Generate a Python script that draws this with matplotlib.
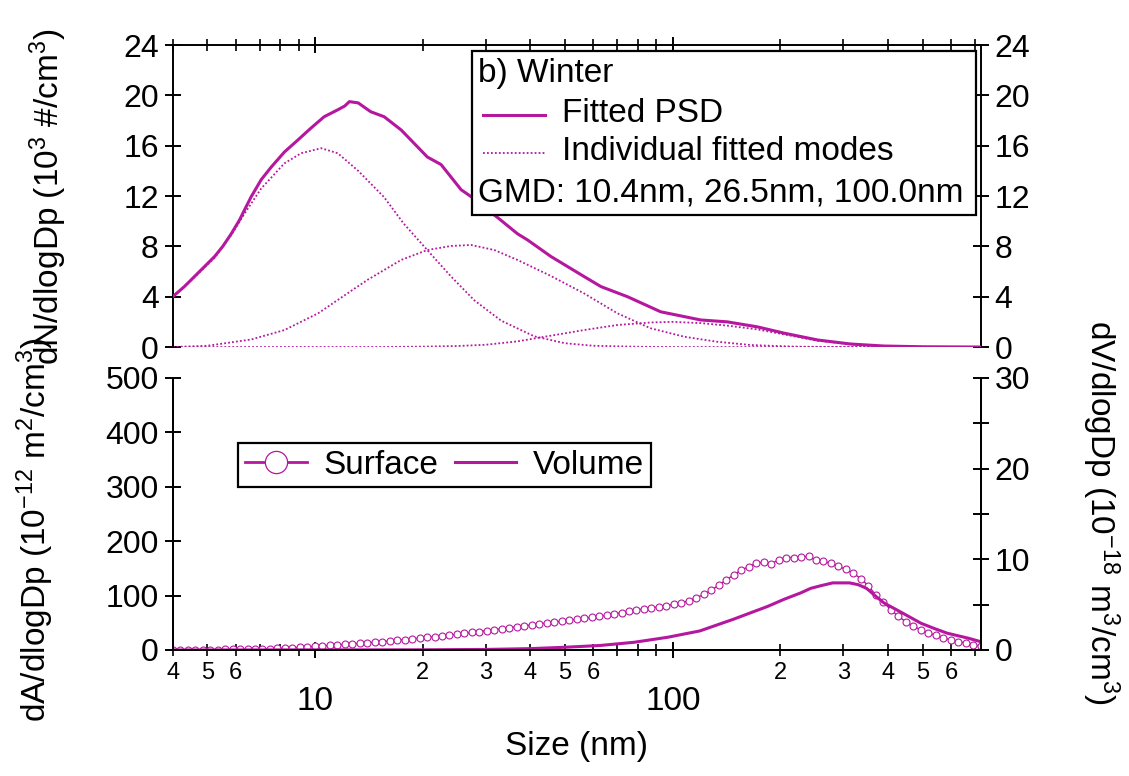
import numpy as np
import matplotlib
matplotlib.use("Agg")
import matplotlib.pyplot as plt
from matplotlib.ticker import FixedLocator, FixedFormatter
from matplotlib.lines import Line2D
from matplotlib.patches import Rectangle

plt.rcParams['font.family'] = ['Liberation Sans', 'DejaVu Sans']
plt.rcParams['mathtext.fontset'] = 'custom'
plt.rcParams['mathtext.rm'] = 'Liberation Sans'
plt.rcParams['mathtext.it'] = 'Liberation Sans:italic'

MAG = '#b5179e'

# number size distribution (10^3 #/cm3)
psd_d = [4.0, 4.31, 4.6, 4.91, 5.24, 5.52, 5.83, 6.15, 6.35, 6.63, 7.07, 7.54,
         8.21, 8.95, 9.74, 10.6, 11.57, 12.1, 12.47, 13.2, 14.3, 15.6, 17.4,
         20.6, 22.5, 25.6, 27.3, 32.5, 36.8, 39.3, 45.6, 56.5, 63, 74.7, 92.5,
         119.7, 142, 172.5, 205, 254, 314, 389, 500, 725]
psd_n = [4.0, 4.8, 5.6, 6.4, 7.2, 8.0, 9.0, 10.1, 10.9, 11.95, 13.3, 14.3,
         15.5, 16.45, 17.4, 18.3, 18.85, 19.15, 19.5, 19.4, 18.7, 18.3, 17.25,
         15.1, 14.5, 12.5, 11.95, 10.25, 9.0, 8.5, 7.2, 5.6, 4.8, 4.0, 2.8,
         2.15, 2.0, 1.6, 1.1, 0.56, 0.24, 0.08, 0.02, 0.0]

# fitted modes
m1_d = [4.0, 4.6, 5.24, 5.83, 6.35, 7.07, 8.21, 9.14, 10.4, 11.57, 13.2, 15.6,
        17.7, 20.6, 24, 27.9, 33.1, 41, 50, 60, 80, 100, 725]
m1_n = [4.0, 5.55, 7.1, 8.9, 10.6, 12.6, 14.6, 15.4, 15.8, 15.4, 14.0, 11.9,
        9.8, 7.7, 5.6, 3.7, 2.1, 0.85, 0.3, 0.1, 0.02, 0.0, 0.0]
m2_d = [4.0, 5, 6.63, 8.21, 10.2, 11.57, 14.0, 17.4, 20.6, 24, 27.3, 31.7,
        36.8, 45.6, 56.5, 70, 86.7, 107.6, 133, 165, 220, 300, 725]
m2_n = [0.0, 0.1, 0.6, 1.35, 2.68, 3.74, 5.33, 6.92, 7.71, 8.03, 8.11, 7.71,
        6.92, 5.65, 4.26, 2.68, 1.49, 0.82, 0.42, 0.16, 0.03, 0.0, 0.0]
m3_d = [4.0, 15, 20, 25, 30, 36.8, 45.6, 56.5, 70, 86.7, 100, 120, 142,
        172.5, 205, 254, 314, 389, 500, 725]
m3_n = [0.0, 0.0, 0.03, 0.08, 0.18, 0.45, 0.9, 1.35, 1.75, 1.95, 2.0, 1.9, 1.7,
        1.4, 1.0, 0.5, 0.22, 0.07, 0.02, 0.0]

# surface distribution (10^-12 m2/cm3), one value per size bin
surf_d = np.logspace(np.log10(4), np.log10(725), 109)
surf = [0.2, 0.3, 0.35, 0.45, 0.55, 0.65, 0.8, 0.95, 1.1, 1.3,
        1.6, 1.9, 2.2, 2.6, 3.0, 3.5, 4.1, 4.8, 5.6, 6.8,
        7.6, 8.5, 9.4, 10.3, 11.2, 12.2, 13.2, 14.2, 15.2, 16.3,
        17.6, 19.0, 20.4, 21.8, 23.1, 24.5, 25.9, 27.3, 28.8, 30.5,
        32.2, 33.9, 35.7, 37.4, 39.1, 40.9, 42.6, 44.4, 46.1, 47.8,
        49.6, 51.3, 53.0, 54.8, 56.5, 58.2, 60.0, 61.6, 63.8, 66.2,
        68.6, 71.0, 73.5, 75.6, 77.5, 79.4, 81.5, 83.8, 86.8, 90.5,
        96.0, 102, 110, 119, 129, 138, 147, 153, 159, 162,
        158, 166, 170, 170, 171, 172, 165, 163, 159, 154,
        148, 141, 131, 118, 101, 88, 74, 62, 52, 44,
        37, 31, 27, 22.5, 18.8, 15.5, 12.5, 9.8, 7.4]

# volume distribution (10^-18 m3/cm3)
vol_d = [4, 20, 30, 40, 50, 62.8, 78, 96.7, 119, 148, 165, 184, 205, 228, 243,
         260, 280, 312, 330, 348, 370, 389, 433, 494, 540, 585, 670, 725]
vol = [0, 0.02, 0.06, 0.15, 0.3, 0.5, 0.85, 1.4, 2.1, 3.4, 4.1, 4.8, 5.6, 6.3, 6.8,
       7.1, 7.4, 7.4, 7.2, 6.8, 5.9, 5.2, 4.2, 2.95, 2.35, 1.85, 1.3, 0.92]

x_major = [10, 100]
x_minor = [4, 5, 6, 7, 8, 9, 20, 30, 40, 50, 60, 70, 80, 90,
           200, 300, 400, 500, 600, 700]
x_minor_labels = ['4', '5', '6', '', '', '', '2', '3', '4', '5', '6', '', '', '',
                  '2', '3', '4', '5', '6', '']
xlim = (4, 725)

fig = plt.figure(figsize=(11.29, 7.76), dpi=100)
ax1 = fig.add_axes([0.153, 0.5528, 0.7155, 0.3892])
ax2 = fig.add_axes([0.153, 0.1624, 0.7155, 0.3505])
ax3 = ax2.twinx()

# top panel: number distribution
ax1.plot(psd_d, psd_n, color=MAG, lw=2.2, zorder=3)
for d, n in [(m1_d, m1_n), (m2_d, m2_n), (m3_d, m3_n)]:
    ax1.plot(d, n, color=MAG, lw=1.3, ls=(0, (1, 1.2)), zorder=2)

# bottom panel: surface + volume
ax2.plot(surf_d, surf, ls='-', lw=1.0, marker='o', ms=5, mfc='white', mec=MAG,
         mew=0.8, color=MAG, zorder=3)
ax3.plot(vol_d, vol, color=MAG, lw=2.2, zorder=2)

for ax in (ax1, ax2, ax3):
    ax.set_xscale('log')
    ax.set_xlim(*xlim)
    ax.xaxis.set_major_locator(FixedLocator(x_major))
    ax.xaxis.set_minor_locator(FixedLocator(x_minor))
    for s in ax.spines.values():
        s.set_linewidth(1.4)

ax1.set_ylim(0, 24)
ax1.set_yticks([0, 4, 8, 12, 16, 20, 24])
ax1.spines['bottom'].set_visible(False)
ax1.tick_params(axis='x', which='both', bottom=False, top=True,
                labelbottom=False, labeltop=False, direction='inout')
ax1.tick_params(axis='x', which='major', length=12, width=1.4)
ax1.tick_params(axis='x', which='minor', length=8, width=1.2)
ax1.tick_params(axis='y', which='both', left=True, right=True,
                labelleft=True, labelright=True, direction='inout',
                length=12, width=1.4, labelsize=23, pad=4)

ax2.set_ylim(0, 500)
ax2.set_yticks([0, 100, 200, 300, 400, 500])
ax3.set_ylim(0, 30)
ax3.set_yticks([0, 10, 20, 30])
ax3.set_yticks([5, 15, 25], minor=True)
for ax in (ax2, ax3):
    ax.spines['top'].set_visible(False)
ax2.tick_params(axis='y', direction='inout', length=12, width=1.4,
                labelsize=23, pad=4)
ax3.tick_params(axis='y', which='both', direction='inout', length=12,
                width=1.4, labelsize=23, pad=4)
ax2.xaxis.set_minor_formatter(FixedFormatter(x_minor_labels))
ax2.xaxis.set_major_formatter(FixedFormatter(['10', '100']))
ax2.tick_params(axis='x', which='major', direction='inout', length=12,
                width=1.4, labelsize=24, pad=20)
ax2.tick_params(axis='x', which='minor', direction='inout', length=8,
                width=1.2, labelsize=17, pad=5)
ax3.tick_params(axis='x', which='both', bottom=False, labelbottom=False)
ax2.set_xlabel('Size (nm)', fontsize=24, labelpad=10)

fig.text(0.043, 0.747, r'dN/dlogDp (10$^{3}$ #/cm$^{3}$)', rotation=90,
         ha='center', va='center', fontsize=24)
fig.text(0.031, 0.317, r'dA/dlogDp (10$^{-12}$ m$^{2}$/cm$^{3}$)', rotation=90,
         ha='center', va='center', fontsize=24)
fig.text(0.975, 0.340, r'dV/dlogDp (10$^{-18}$ m$^{3}$/cm$^{3}$)', rotation=270,
         ha='center', va='center', fontsize=24)

# legend box of the number panel
box = Rectangle((0.371, 0.437), 0.623, 0.543, transform=ax1.transAxes,
                facecolor='white', edgecolor='black', lw=1.6, zorder=5)
ax1.add_patch(box)
ax1.text(0.378, 0.907, 'b) Winter', transform=ax1.transAxes, fontsize=24,
         va='center', ha='left', zorder=6)
ax1.add_line(Line2D([0.384, 0.461], [0.768, 0.768], transform=ax1.transAxes,
                    color=MAG, lw=2.2, zorder=6))
ax1.text(0.482, 0.772, 'Fitted PSD', transform=ax1.transAxes, fontsize=24,
         va='center', ha='left', zorder=6)
ax1.add_line(Line2D([0.384, 0.461], [0.642, 0.642], transform=ax1.transAxes,
                    color=MAG, lw=1.3, ls=(0, (1, 1.2)), zorder=6))
ax1.text(0.482, 0.648, 'Individual fitted modes', transform=ax1.transAxes,
         fontsize=24, va='center', ha='left', zorder=6)
ax1.text(0.378, 0.510, 'GMD: 10.4nm, 26.5nm, 100.0nm', transform=ax1.transAxes,
         fontsize=24, va='center', ha='left', zorder=6)

surf_handle = Line2D([], [], color=MAG, lw=2.0, marker='o', ms=16,
                     mfc='white', mec=MAG, mew=0.9)
vol_handle = Line2D([], [], color=MAG, lw=2.2)
leg = ax3.legend([surf_handle, vol_handle], ['Surface', 'Volume'], ncol=2,
                 loc='upper left', bbox_to_anchor=(0.081, 0.761),
                 borderaxespad=0, fontsize=24, handlelength=1.85,
                 handletextpad=0.5, columnspacing=0.5, borderpad=0.2,
                 fancybox=False, edgecolor='black', framealpha=1)
leg.get_frame().set_linewidth(1.6)

fig.savefig('out.png', dpi=100)
